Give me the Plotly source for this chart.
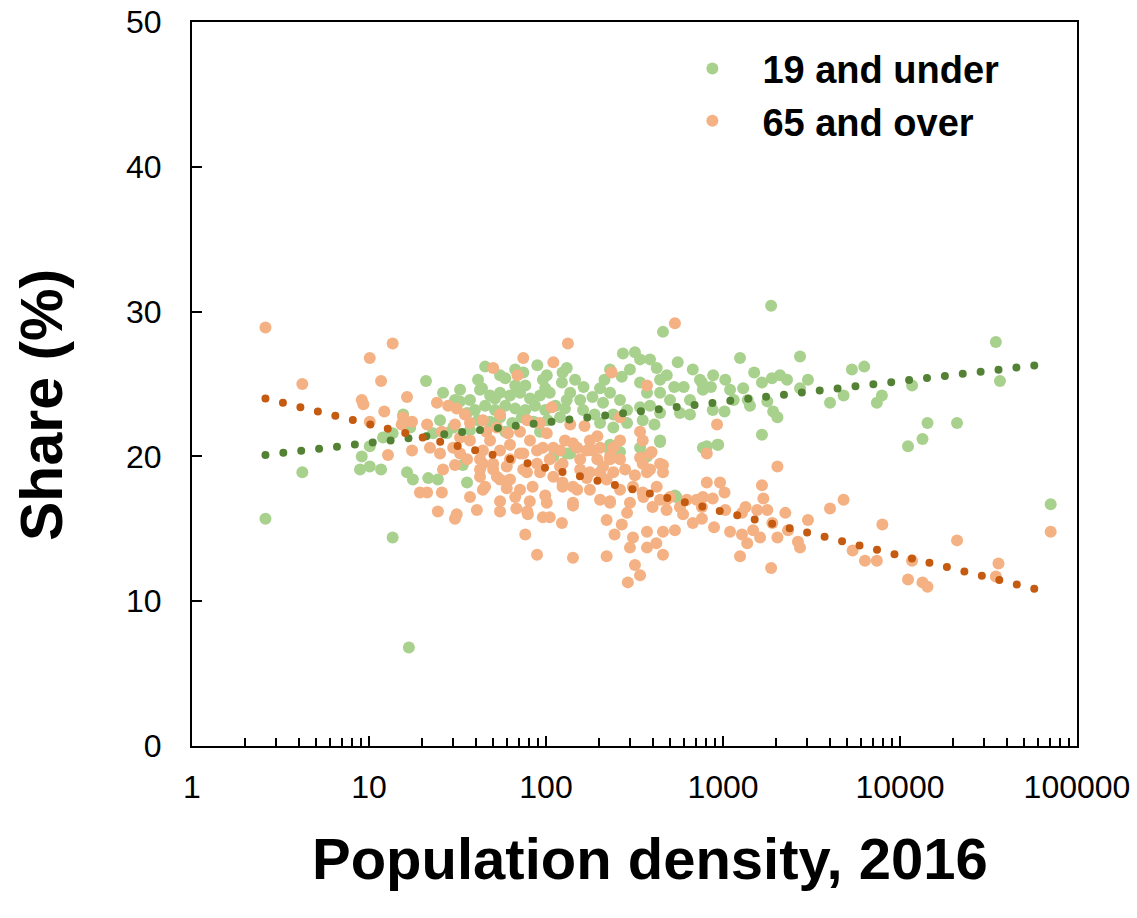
import plotly.graph_objects as go

# ---- data (population density vs share %) ----
green_x = [2.6, 4.2, 8.9, 9.1, 10.1, 11.7, 13.6, 16.4, 17.7, 10.1, 12.0, 13.6, 15.6, 17.1, 16.8, 21.0, 26.2, 21.6, 24.5, 35.8,
           33.9, 25.2, 23.0, 29.9, 35.8, 45.3, 41.3, 43.5, 58.9, 74.4, 76.4, 89.3, 101, 124, 123, 96, 110, 131,
           42.4, 48.3, 55, 62.6, 71.3, 81.2, 92.5, 105, 137, 45.3, 51.5, 58.9, 67, 76.4, 86.6, 99, 113, 128,
           41.3, 48.3, 55, 64.5, 73, 85, 102, 120, 37.2, 39.7, 32.7, 51.5, 67, 99, 37.2, 58.9, 92.5, 32.7,
           458, 272, 318, 340, 298, 268, 422, 481, 555, 675, 760, 770, 340, 372, 340, 352, 441, 530, 600, 502,
           571, 441, 441, 340, 372, 163, 202, 230, 131, 146, 131, 156, 183, 210, 262, 287, 202, 240, 287, 137,
           230, 770, 545,
           1870, 1248, 2724, 1500, 880, 1030, 741, 855, 1096, 1300, 1660, 1890, 2100, 2300, 3020, 2724, 1150, 1380,
           1780, 1420, 875, 1020, 1920, 2030, 4024, 4800, 5350, 6280, 7900, 7400, 1660, 810, 940,
           34800, 11700, 36700, 14300, 21000, 13400, 11100, 71000,
           230, 262, 441, 930, 535,
           162, 188, 240, 387, 651, 410, 651, 214, 441, 387, 30.6, 27.5, 55, 67, 230]
green_y = [15.7, 18.9, 19.1, 20.0, 19.3, 19.1, 14.4, 18.9, 18.4, 20.7, 21.3, 21.6, 22.9, 22.0, 6.8, 25.2, 24.4, 18.5, 18.4, 18.2,
           19.4, 22.5, 21.6, 22.0, 23.0, 26.2, 25.3, 24.7, 25.4, 25.8, 24.9, 26.3, 25.6, 25.8, 25.1, 25.3, 20.0, 20.2,
           24.6, 24.2, 24.4, 24.2, 24.4, 24.0, 24.2, 24.4, 24.4, 23.5, 23.2, 23.5, 23.3, 23.2, 23.5, 23.2, 23.5, 23.3,
           22.5, 22.4, 22.7, 22.3, 22.7, 22.4, 22.5, 22.7, 23.9, 23.2, 23.8, 24.0, 24.9, 24.7, 21.8, 21.7, 21.7, 24.6,
           28.6, 27.1, 27.2, 26.7, 26.0, 25.5, 26.1, 25.6, 26.5, 26.0, 25.1, 24.6, 25.1, 24.4, 23.4, 22.5, 24.4, 24.8, 24.8, 23.9,
           23.0, 23.0, 21.1, 20.6, 20.0, 24.8, 24.7, 24.4, 26.1, 25.3, 23.9, 23.9, 24.1, 23.7, 23.9, 23.2, 22.3, 22.0, 22.3, 20.2,
           20.8, 20.6, 17.2,
           30.4, 26.8, 26.9, 25.8, 25.6, 25.3, 25.3, 24.8, 24.6, 24.7, 25.1, 25.4, 25.6, 25.3, 25.3, 24.7, 23.9, 23.9,
           23.8, 23.5, 23.2, 23.1, 23.1, 22.7, 23.7, 24.2, 26.0, 26.2, 24.2, 23.7, 21.5, 20.7, 20.8,
           27.9, 24.9, 25.2, 22.3, 22.3, 21.2, 20.7, 16.7,
           20.4, 20.3, 21.0, 20.8, 17.3,
           23.2, 22.9, 22.9, 23.5, 23.9, 22.2, 22.9, 25.3, 25.3, 26.7, 23.9, 21.6, 25.6, 26.0, 26.0]

orange_x = [2.6, 4.2, 10.1, 13.6, 11.7, 9.1, 9.3, 12.2, 10.1, 12.8, 16.4, 15.6, 17.5, 15.3, 17.5, 19.4,
            133, 74.4, 110, 50.3, 69, 24.2, 28, 31.3, 34.8, 21.3, 25.8, 32.7, 37.2, 44, 52.8, 61, 78.3, 101, 108, 25.2,
            29.9, 22.1, 26.2, 21.3, 25.8, 44, 55, 71.3, 89, 110, 44, 50.3, 60, 74.4, 89, 120, 42.4, 55, 44, 60,
            71.3, 84, 110, 124, 24.5, 31.3, 40.7, 55, 68, 81, 101, 105, 79,
            30.6, 55, 78.3, 76.4, 89, 96, 123, 142, 142, 220, 230, 220, 244, 268, 298, 318, 340, 290, 372, 420,
            458, 458, 372, 310, 595, 535, 675, 890, 770, 810, 458, 340, 387, 372, 422, 355, 298, 287, 400, 480,
            571, 625, 480, 310, 262, 170, 202, 195, 156, 230, 220, 150, 124, 92.5, 78, 62.6, 52.8, 45.3, 42.4, 42.4,
            50.3, 62.6, 74.4, 96, 120, 150, 170, 202, 240, 32.7, 35.8,
            535, 235, 372, 262, 137, 165, 195, 340, 352, 395, 142, 183, 262, 230, 124, 210, 240, 177, 441, 458,
            352, 387, 810, 710, 502, 441, 352, 230, 142, 142,
            925, 2030, 962, 1020, 1660, 1690, 875, 760, 760, 1030, 1340, 1560, 1780, 1280, 1900, 2250, 2330, 3020,
            4024, 4800, 7950, 1096, 1280, 1480, 1620, 2030, 1370, 2650, 2724, 1248, 1870, 5400, 6340, 7400,
            11700, 11100, 13400, 14300, 21000, 36000, 34800, 71000,
            37.2, 48.3, 62.6, 81.2, 46, 71.3, 30.6, 55, 92.5, 128, 177, 156, 280, 262, 318, 177, 202, 99, 67, 37.2,
            30.6, 105]
orange_y = [28.9, 25.0, 26.8, 27.8, 25.2, 23.9, 23.6, 23.1, 22.4, 20.1, 24.1, 22.7, 22.4, 22.2, 20.4, 17.5,
            27.8, 26.8, 26.5, 26.1, 25.6, 23.7, 23.5, 23.3, 22.9, 22.2, 21.7, 21.3, 22.3, 22.5, 22.0, 21.6, 22.5, 21.6, 23.4, 20.2,
            20.6, 20.6, 19.1, 17.5, 17.5, 20.4, 20.4, 20.2, 20.4, 20.6, 19.5, 19.1, 19.3, 19.1, 19.5, 19.3, 18.6, 18.4, 17.7, 17.8,
            17.7, 17.9, 18.6, 17.9, 16.2, 16.0, 16.3, 16.9, 16.4, 16.9, 16.8, 15.8, 16.0,
            15.7, 16.2, 16.2, 14.6, 13.2, 15.8, 15.4, 16.6, 13.0, 13.1, 16.9, 15.6, 14.6, 15.3, 13.7, 12.5, 11.8, 11.3, 13.7, 14.0,
            13.2, 14.8, 14.8, 14.4, 16.0, 14.9, 15.4, 15.1, 17.2, 18.2, 19.4, 19.9, 20.2, 18.9, 17.9, 17.2, 16.8, 16.1, 16.5, 16.3,
            16.5, 17.0, 17.0, 17.9, 17.7, 18.5, 18.9, 19.8, 19.8, 19.8, 18.4, 17.7, 18.2, 18.9, 18.9, 18.4, 18.6, 17.9, 19.1, 19.8,
            19.5, 19.8, 20.2, 20.6, 20.4, 20.6, 20.4, 20.6, 20.6, 20.2, 19.8,
            29.2, 25.8, 24.9, 22.7, 22.2, 22.1, 21.4, 21.7, 21.1, 20.3, 20.9, 20.4, 21.1, 20.0, 19.5, 19.3, 18.9, 18.9, 19.5, 18.9,
            19.5, 19.1, 20.2, 17.0, 17.2, 17.0, 17.5, 16.8, 17.9, 16.8,
            22.2, 19.3, 18.2, 17.5, 18.0, 17.1, 17.1, 16.5, 15.7, 16.3, 16.5, 16.3, 16.3, 16.1, 15.4, 16.1, 14.9, 15.6,
            16.4, 17.0, 15.3, 14.8, 14.6, 14.9, 14.4, 14.4, 14.0, 14.1, 13.7, 13.1, 12.3, 13.5, 12.8, 12.8,
            12.8, 11.5, 11.3, 11.0, 14.2, 12.6, 11.7, 14.8,
            21.1, 21.1, 20.8, 21.1, 21.7, 21.7, 22.2, 22.9, 22.3, 21.1, 21.1, 19.1, 19.1, 19.8, 18.7, 17.7, 17.0, 17.3, 17.2, 17.2,
            19.4, 19.8]

# logarithmic trend lines (end points)
trend_x = [2.6, 70000]
green_trend_y = [20.1, 26.4]
orange_trend_y = [24.0, 10.6]

series_names = ["19 and under", "65 and over"]
x_title = "Population density, 2016"
y_title = "Share (%)"
x_tick_vals = [1, 10, 100, 1000, 10000, 100000]
x_tick_text = ["1", "10", "100", "1000", "10000", "100000"]

GREEN = "#A9D18E"
ORANGE = "#F4B183"
GREEN_DARK = "#548235"
ORANGE_DARK = "#C55A11"
FONT = "Liberation Sans, Arial, sans-serif"

fig = go.Figure()
fig.add_trace(go.Scatter(x=green_x, y=green_y, mode="markers", name=series_names[0],
                         legendgroup="g1",
                         marker=dict(color=GREEN, size=12, line=dict(width=0))))
fig.add_trace(go.Scatter(x=orange_x, y=orange_y, mode="markers", name=series_names[1],
                         legendgroup="g2",
                         marker=dict(color=ORANGE, size=12, line=dict(width=0))))
fig.add_trace(go.Scatter(x=trend_x, y=green_trend_y, mode="lines", showlegend=False,
                         line=dict(color=GREEN_DARK, width=8, dash="0px,18px"), hoverinfo="skip"))
fig.add_trace(go.Scatter(x=trend_x, y=orange_trend_y, mode="lines", showlegend=False,
                         line=dict(color=ORANGE_DARK, width=8, dash="0px,18px"), hoverinfo="skip"))

minor_vals = [m * 10 ** e for e in range(5) for m in range(2, 10)]

fig.update_layout(
    width=1137, height=918,
    margin=dict(l=192, r=60, t=22, b=172, autoexpand=False),
    paper_bgcolor="white", plot_bgcolor="white",
    font=dict(family=FONT, color="black"),
    showlegend=True,
    legend=dict(x=0.5315, xanchor="left", y=0.979, yanchor="top",
                font=dict(family=FONT, size=38, color="black", weight="bold"),
                itemwidth=90, tracegroupgap=0, traceorder="grouped",
                bgcolor="rgba(0,0,0,0)", borderwidth=0),
    xaxis=dict(type="log", range=[0, 5], tickmode="array", tickvals=x_tick_vals, ticktext=x_tick_text,
               ticks="inside", ticklen=10, tickwidth=2, tickcolor="black", automargin=False,
               minor=dict(ticks="inside", ticklen=8, tickwidth=1.5, tickcolor="black", tickvals=minor_vals, showgrid=False),
               showline=True, linecolor="black", linewidth=2, mirror=True, showgrid=False, zeroline=False,
               tickfont=dict(family=FONT, size=32, color="black"), ticklabelstandoff=12),
    yaxis=dict(range=[0, 50], tickmode="linear", tick0=0, dtick=10, automargin=False,
               ticks="inside", ticklen=10, tickwidth=2, tickcolor="black",
               showline=True, linecolor="black", linewidth=2, mirror=True, showgrid=False, zeroline=False,
               tickfont=dict(family=FONT, size=32, color="black"), ticklabelstandoff=22),
    annotations=[
        dict(text=x_title, xref="paper", yref="paper", x=0.5175, y=-0.156, xanchor="center", yanchor="middle",
             showarrow=False, font=dict(family=FONT, size=58, color="black", weight="bold")),
        dict(text=y_title, xref="paper", yref="paper", x=-0.1695, y=0.471, xanchor="center", yanchor="middle",
             textangle=-90, showarrow=False, font=dict(family=FONT, size=59, color="black", weight="bold")),
    ],
)

post = ("var s=document.createElement('style');"
        "s.innerHTML='.scatterlayer path.js-line{stroke-linecap:round !important;}';"
        "document.head.appendChild(s);")
fig.write_html("out.html", post_script=post)
